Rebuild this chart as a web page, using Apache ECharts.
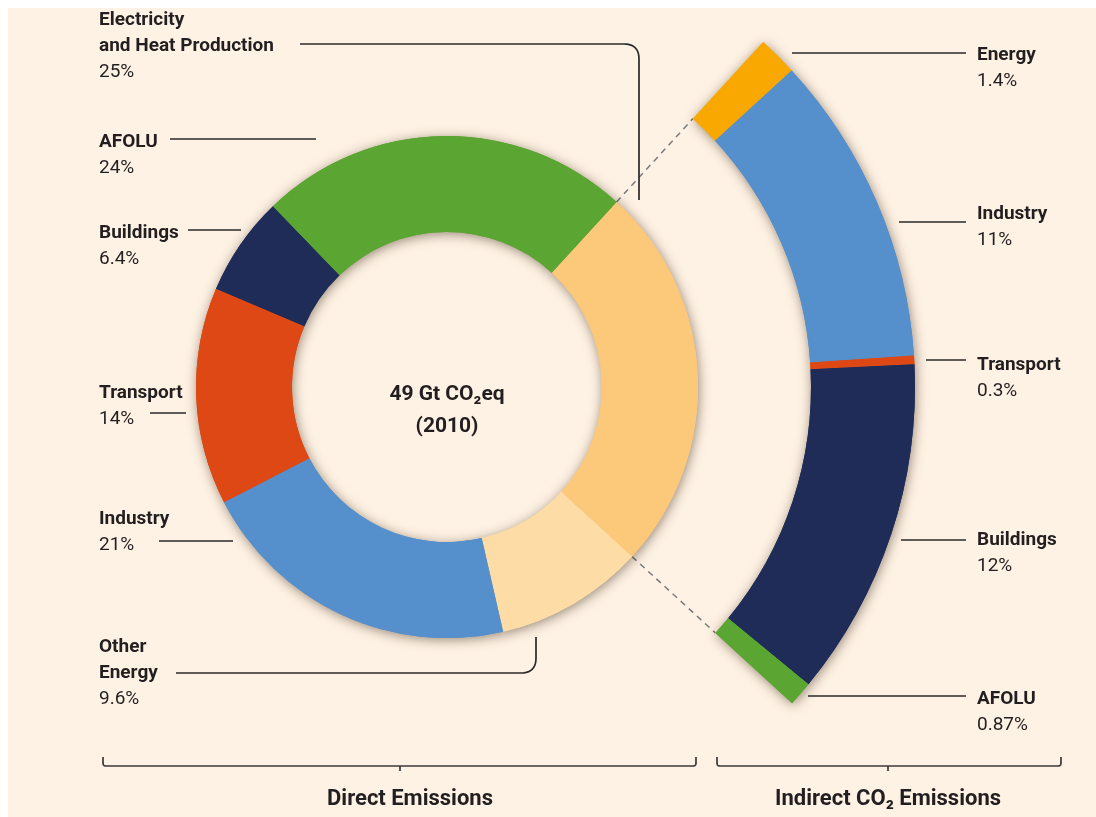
<!DOCTYPE html>
<html><head><meta charset="utf-8">
<script src="https://cdn.jsdelivr.net/npm/echarts@6/dist/echarts.min.js"></script>
<style>html,body{margin:0;padding:0;background:#fff;} #c{width:1096px;height:817px;}</style>
</head><body><div id="c"></div>
<script>
// ---- data ----
const directNames = ['Electricity\nand Heat Production', 'Other\nEnergy', 'Industry', 'Transport', 'Buildings', 'AFOLU'];
const directValues = [25, 9.6, 21, 14, 6.4, 24];
const directLabels = ['25%', '9.6%', '21%', '14%', '6.4%', '24%'];
const indirectNames = ['Energy', 'Industry', 'Transport', 'Buildings', 'AFOLU'];
const indirectValues = [1.4, 11, 0.3, 12, 0.87];
const indirectLabels = ['1.4%', '11%', '0.3%', '12%', '0.87%'];
const centerTitle = ['49 Gt CO₂eq', '(2010)'];
const groupTitles = ['Direct Emissions', 'Indirect CO₂ Emissions'];

// ---- style / layout ----
const directColors = ['#fcc97b', '#fddca6', '#5590cd', '#dd4814', '#1f2c58', '#5ba532'];
const indirectColors = ['#f8a800', '#5590cd', '#dd4814', '#1f2c58', '#5ba532'];
const BG = '#fef2e4', INK = '#231f20';
const FONT = "Roboto, sans-serif";
const CX = 447, CY = 387;
const R_IN = [155, 251], R_OUT = [364, 468];
const START = 47.5;
const total = directValues.reduce((a, b) => a + b, 0);
const END = START - 360 * directValues[0] / total;

const directLabelPos = [[99, 7], [99, 634], [99, 506], [99, 380], [99, 220], [99, 129]];
const indirectLabelPos = [[977, 42], [977, 201], [977, 352], [977, 527], [977, 686]];
// leader polylines; a point with a 3rd entry marks a rounded corner of that radius
const directLeaders = [
  [[300, 44], [639, 44, 15], [639, 200]],
  [[176, 673], [536, 673, 15], [536, 637]],
  [[159, 541], [233, 541]],
  [[150, 413], [186, 413]],
  [[188, 230], [241, 230]],
  [[170, 139], [316, 139]]
];
const indirectLeaders = [
  [[792, 53], [966, 53]], [[899, 222], [966, 222]], [[926, 360], [966, 360]],
  [[901, 540], [966, 540]], [[808, 696], [966, 696]]
];

function roundPts(pts) {
  const out = [];
  pts.forEach((p, i) => {
    if (p.length < 3) { out.push([p[0], p[1]]); return; }
    const prev = pts[i - 1], next = pts[i + 1], r = p[2];
    const d1 = Math.hypot(p[0] - prev[0], p[1] - prev[1]);
    const d2 = Math.hypot(next[0] - p[0], next[1] - p[1]);
    const a = [p[0] + (prev[0] - p[0]) * r / d1, p[1] + (prev[1] - p[1]) * r / d1];
    const b = [p[0] + (next[0] - p[0]) * r / d2, p[1] + (next[1] - p[1]) * r / d2];
    for (let k = 0; k <= 10; k++) {
      const t = k / 10, u = 1 - t;
      out.push([u * u * a[0] + 2 * u * t * p[0] + t * t * b[0], u * u * a[1] + 2 * u * t * p[1] + t * t * b[1]]);
    }
  });
  return out;
}

function pieSeries(names, values, colors, radius, start, end, shadow) {
  const s = {
    type: 'pie', center: [CX, CY], radius: radius, startAngle: start, clockwise: true,
    silent: true, animation: false, avoidLabelOverlap: false,
    label: { show: false }, labelLine: { show: false }, emphasis: { disabled: true },
    z: shadow ? 1 : 2,
    data: values.map((v, i) => ({
      value: v, name: names[i].replace('\n', ' '),
      itemStyle: Object.assign({ color: colors[i], borderWidth: 0 },
        shadow ? { shadowBlur: 12, shadowColor: 'rgba(70,50,30,0.55)', shadowOffsetX: 1, shadowOffsetY: 2 } : {})
    }))
  };
  if (end !== null) s.endAngle = end;
  return s;
}

const graphics = [
  { type: 'rect', shape: { x: 0, y: 0, width: 1096, height: 8 }, style: { fill: '#fff' }, z: 100 },
  { type: 'rect', shape: { x: 0, y: 0, width: 8, height: 817 }, style: { fill: '#fff' }, z: 100 }
];
function label(x, y, name, val) {
  const lines = name.split('\n').map(n => '{b|' + n + '}');
  graphics.push({
    type: 'text', x: x, y: y, z: 50,
    style: {
      text: lines.join('\n') + '\n{v|' + val + '}',
      rich: {
        b: { fontFamily: FONT, fontWeight: 'bold', fontSize: 19, lineHeight: 26, fill: INK },
        v: { fontFamily: FONT, fontSize: 19, lineHeight: 26, fill: INK }
      }
    }
  });
}
directNames.forEach((n, i) => label(directLabelPos[i][0], directLabelPos[i][1], n, directLabels[i]));
indirectNames.forEach((n, i) => label(indirectLabelPos[i][0], indirectLabelPos[i][1], n, indirectLabels[i]));
directLeaders.concat(indirectLeaders).forEach(p => graphics.push({
  type: 'polyline', z: 50, shape: { points: roundPts(p) }, style: { fill: null, stroke: '#2a2a2a', lineWidth: 1.7 }
}));
// dashed connectors at the boundaries of the expanded slice
[START, END].forEach(a => {
  const rad = a * Math.PI / 180;
  graphics.push({
    type: 'line', z: 0,
    shape: { x1: CX + R_IN[1] * Math.cos(rad), y1: CY - R_IN[1] * Math.sin(rad),
             x2: CX + R_OUT[0] * Math.cos(rad), y2: CY - R_OUT[0] * Math.sin(rad) },
    style: { stroke: '#7a7a7a', lineWidth: 1.5, lineDash: [6, 5] }
  });
});
// center text
graphics.push({ type: 'text', x: CX, y: 395, z: 50, style: { text: centerTitle[0], fontFamily: FONT, fontWeight: 'bold', fontSize: 21, fill: INK, textAlign: 'center', textVerticalAlign: 'middle' } });
graphics.push({ type: 'text', x: CX, y: 427, z: 50, style: { text: centerTitle[1], fontFamily: FONT, fontWeight: 'bold', fontSize: 21, fill: INK, textAlign: 'center', textVerticalAlign: 'middle' } });
// group brackets and titles
const brackets = [
  [[103, 757], [103, 766, 3], [696, 766, 3], [696, 757]],
  [[400, 766], [400, 771]],
  [[717, 757], [717, 766, 3], [1061, 766, 3], [1061, 757]],
  [[888, 766], [888, 771]]
];
brackets.forEach(p => graphics.push({ type: 'polyline', z: 50, shape: { points: roundPts(p) }, style: { fill: null, stroke: '#3a3a3a', lineWidth: 1.7 } }));
graphics.push({ type: 'text', x: 410, y: 799, z: 50, style: { text: groupTitles[0], fontFamily: FONT, fontWeight: 'bold', fontSize: 22, fill: INK, textAlign: 'center', textVerticalAlign: 'middle' } });
graphics.push({ type: 'text', x: 888, y: 799, z: 50, style: { text: groupTitles[1], fontFamily: FONT, fontWeight: 'bold', fontSize: 22, fill: INK, textAlign: 'center', textVerticalAlign: 'middle' } });

const chart = echarts.init(document.getElementById('c'), null, { renderer: 'canvas' });
chart.setOption({
  backgroundColor: BG,
  animation: false,
  series: [
    pieSeries(directNames, directValues, directColors, R_IN, START, null, true),
    pieSeries(directNames, directValues, directColors, R_IN, START, null, false),
    pieSeries(indirectNames, indirectValues, indirectColors, R_OUT, START, END, true),
    pieSeries(indirectNames, indirectValues, indirectColors, R_OUT, START, END, false)
  ],
  graphic: graphics
});
</script></body></html>
